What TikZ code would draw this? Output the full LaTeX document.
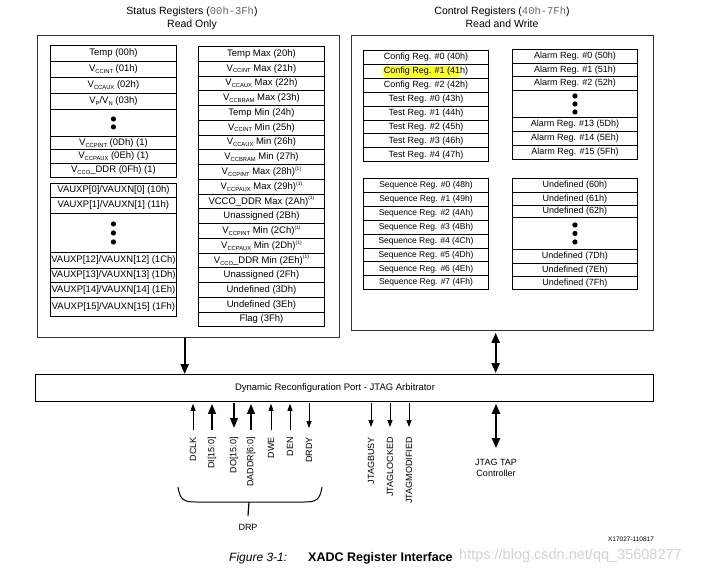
\documentclass[tikz,border=0pt]{standalone}
\usepackage{fontspec}
\setmainfont{Liberation Sans}
\setmonofont{Liberation Mono}
\usetikzlibrary{arrows.meta}
\newcommand\vsub[1]{\raisebox{-0.35ex}{\fontsize{5.8}{6}\selectfont #1}}
\newcommand\fnote{\raisebox{0.9ex}{\fontsize{5}{6}\selectfont (1)}}
\newcommand\regfont{\fontsize{9}{10}\selectfont}
\newcommand\stfont{\fontsize{9.5}{10}\selectfont}
\newcommand\seqfont{\fontsize{8.5}{10}\selectfont}
\newcommand\regtab[6][]{%
  \xdef\cury{#4}%
  \foreach \rh/\rtxt [count=\ri] in {#6}{%
    \node[reg,#1,minimum width=#5pt,minimum height=\rh pt,anchor=north west] (#2\ri) at (#3,\cury) {\rtxt};
    \pgfmathsetmacro\nexty{\cury+\rh}\xdef\cury{\nexty}%
  }}
\definecolor{hl}{RGB}{255,255,40}
\tikzset{
  reg/.style={draw=black, line width=0.9pt, inner sep=0pt, font=\regfont},
  outerbox/.style={draw=black!80, line width=1.3pt, inner sep=0pt},
  thinarr/.style={line width=0.8pt, -{Triangle[length=7pt,width=5pt]}},
  thickarr/.style={line width=2pt, -{Triangle[length=10pt,width=7.5pt]}},
  bigarr/.style={line width=2pt, -{Triangle[length=10pt,width=8pt]}},
  bigboth/.style={line width=2pt, {Triangle[length=10pt,width=8pt]}-{Triangle[length=10pt,width=8pt]}},
  siglbl/.style={rotate=90, anchor=east, inner sep=0pt, font=\fontsize{9}{10}\selectfont},
  title/.style={align=center, font=\fontsize{10.5}{13}\selectfont, inner sep=0pt},
  dot/.style={fill=black}
}
\begin{document}
\begin{tikzpicture}[x=1pt,y=-1pt]
\useasboundingbox (0,0) rectangle (712,574);
% titles
\node[title] (sttitle) at (192,18) {Status Registers (\textcolor{black!60}{\texttt{00h-3Fh}})\\Read Only};
\node[title] (cttitle) at (502,17) {Control Registers (\textcolor{black!60}{\texttt{40h-7Fh}})\\Read and Write};
% outer boxes
\node[outerbox, minimum width=302pt, minimum height=302pt, anchor=north west] (status) at (37,35) {};
\node[outerbox, minimum width=302pt, minimum height=295pt, anchor=north west] (ctrl) at (351,35) {};
% highlight
\fill[hl, rounded corners=3pt] (383,66) rectangle (460,77.5);
% status tables
\regtab[font=\stfont]{sa}{50}{45}{126}{16/Temp (00h), 16/{V\vsub{CCINT} (01h)}, 16/{V\vsub{CCAUX} (02h)}, 16/{V\vsub{P}/V\vsub{N} (03h)}, 27/{}, 13/{V\vsub{CCPINT} (0Dh) (1)}, 14/{V\vsub{CCPAUX} (0Eh) (1)}, 14/{V\vsub{CCO}\_DDR (0Fh) (1)}}
\foreach \dy in {-4,4} \fill[dot] ([yshift=\dy pt]sa5.center) circle (2.6pt);
\regtab[font=\stfont]{sb}{50}{183}{126}{14/{VAUXP[0]/VAUXN[0] (10h)}, 16/{VAUXP[1]/VAUXN[1] (11h)}, 39/{}, 16/{VAUXP[12]/VAUXN[12] (1Ch)}, 14/{VAUXP[13]/VAUXN[13] (1Dh)}, 15/{VAUXP[14]/VAUXN[14] (1Eh)}, 19/{VAUXP[15]/VAUXN[15] (1Fh)}}
\foreach \dy in {-9,0,9} \fill[dot] ([yshift=\dy pt]sb3.center) circle (2.6pt);
\regtab[font=\stfont]{sc}{198}{46}{126}{14.75/Temp Max (20h), 14.75/{V\vsub{CCINT} Max (21h)}, 14.75/{V\vsub{CCAUX} Max (22h)}, 14.75/{V\vsub{CCBRAM} Max (23h)}, 14.75/Temp Min (24h), 14.75/{V\vsub{CCINT} Min (25h)}, 14.75/{V\vsub{CCAUX} Min (26h)}, 14.75/{V\vsub{CCBRAM} Min (27h)}, 14.75/{V\vsub{CCPINT} Max (28h)\fnote}, 14.75/{V\vsub{CCPAUX} Max (29h)\fnote}, 14.75/{VCCO\_DDR Max (2Ah)\fnote}, 14.75/Unassigned (2Bh), 14.75/{V\vsub{CCPINT} Min (2Ch)\fnote}, 14.75/{V\vsub{CCPAUX} Min (2Dh)\fnote}, 14.75/{V\vsub{CCO}\_DDR Min (2Eh)\fnote}, 14.75/Unassigned (2Fh), 14.75/Undefined (3Dh), 14.75/Undefined (3Eh), 14.75/Flag (3Fh)}
% control tables
\regtab{ca}{363}{50}{125}{13.9/Config Reg. \#0 (40h), 13.9/Config Reg. \#1 (41h), 13.9/Config Reg. \#2 (42h), 13.9/Test Reg. \#0 (43h), 13.9/Test Reg. \#1 (44h), 13.9/Test Reg. \#2 (45h), 13.9/Test Reg. \#3 (46h), 13.9/Test Reg. \#4 (47h)}
\regtab{cb}{512}{49}{125}{14/Alarm Reg. \#0 (50h), 13/Alarm Reg. \#1 (51h), 14/Alarm Reg. \#2 (52h), 27/{}, 14/Alarm Reg. \#13 (5Dh), 14/Alarm Reg. \#14 (5Eh), 14/Alarm Reg. \#15 (5Fh)}
\foreach \dy in {-8,0,8} \fill[dot] ([yshift=\dy pt]cb4.center) circle (2.6pt);
\regtab[font=\seqfont]{cc}{363}{178}{125}{13.9/Sequence Reg. \#0 (48h), 13.9/Sequence Reg. \#1 (49h), 13.9/Sequence Reg. \#2 (4Ah), 13.9/Sequence Reg. \#3 (4Bh), 13.9/Sequence Reg. \#4 (4Ch), 13.9/Sequence Reg. \#5 (4Dh), 13.9/Sequence Reg. \#6 (4Eh), 13.9/Sequence Reg. \#7 (4Fh)}
\regtab{cd}{512}{178}{125}{14/Undefined (60h), 13/Undefined (61h), 12/Undefined (62h), 32/{}, 14/Undefined (7Dh), 13/Undefined (7Eh), 13/Undefined (7Fh)}
\foreach \dy in {-8.5,0,8.5} \fill[dot] ([yshift=\dy pt]cd4.center) circle (2.6pt);
% DRP box
\node[outerbox, draw=black, minimum width=618pt, minimum height=27pt, anchor=north west] (drp) at (35,374) {};
\node[inner sep=0pt, font=\fontsize{9.5}{11}\selectfont] (drplbl) at (335,388) {Dynamic Reconfiguration Port - JTAG Arbitrator};
% main arrows
\draw[bigarr] ([xshift=-4pt]status.south) -- ([xshift=-4pt]status.south |- drp.north);
\draw[bigboth] ([xshift=-7pt]ctrl.south) ++(0,1.5) -- ([xshift=-7pt,yshift=1pt]ctrl.south |- drp.north);
% JTAG TAP
\node[align=center, inner sep=0pt, font=\fontsize{9}{11}\selectfont] (jtag) at (496,468) {JTAG TAP\\Controller};
\draw[bigboth] ([yshift=-1.5pt]drp.south -| jtag.north) -- ([yshift=11pt]jtag.north);
% signal labels
\node[siglbl] (dclk) at (193,437) {DCLK};
\node[siglbl] (di) at (212,437) {DI[15:0]};
\node[siglbl] (do) at (234,437) {DO[15:0]};
\node[siglbl] (daddr) at (251,437) {DADDR[6:0]};
\node[siglbl] (dwe) at (271,437) {DWE};
\node[siglbl] (den) at (290,437) {DEN};
\node[siglbl] (drdy) at (309,437) {DRDY};
\node[siglbl] (jbusy) at (371,437) {JTAGBUSY};
\node[siglbl] (jlock) at (390,437) {JTAGLOCKED};
\node[siglbl] (jmod) at (409,437) {JTAGMODIFIED};
% signal arrows
\draw[thinarr, shorten >=1.5pt] ([yshift=7pt]dclk.east) -- (drp.south -| dclk.east);
\draw[thickarr, shorten >=1.5pt] ([yshift=7pt]di.east) -- (drp.south -| di.east);
\draw[thickarr] ([yshift=-1pt]drp.south -| do.east) -- ([yshift=9pt]do.east);
\draw[thickarr, shorten >=1.5pt] ([yshift=7pt]daddr.east) -- (drp.south -| daddr.east);
\draw[thinarr, shorten >=1.5pt] ([yshift=7pt]dwe.east) -- (drp.south -| dwe.east);
\draw[thinarr, shorten >=1.5pt] ([yshift=7pt]den.east) -- (drp.south -| den.east);
\draw[thinarr] ([yshift=-1pt]drp.south -| drdy.east) -- ([yshift=9pt]drdy.east);
\draw[thinarr] ([yshift=-1pt]drp.south -| jbusy.east) -- ([yshift=10pt]jbusy.east);
\draw[thinarr] ([yshift=-1pt]drp.south -| jlock.east) -- ([yshift=10pt]jlock.east);
\draw[thinarr] ([yshift=-1pt]drp.south -| jmod.east) -- ([yshift=10pt]jmod.east);
% brace
\coordinate (brl) at (178,487);
\coordinate (brr) at (322,487);
\coordinate (brm) at (249,502);
\node[inner sep=0pt, font=\fontsize{9}{11}\selectfont] (drplab) at (248,527) {DRP};
\draw[line width=1pt] (brl) .. controls (180,500) and (184,502) .. (196,502) -- (304,502) .. controls (316,502) and (320,500) .. (brr);
\draw[line width=1.2pt] (brm) -- ([yshift=8pt]drplab.north);
% captions
\node[inner sep=0pt, font=\fontsize{6.5}{8}\selectfont] (xid) at (631,539) {X17027-110817};
\node[anchor=west, inner sep=0pt, font=\fontsize{12}{14}\selectfont\itshape] (figno) at (229,558) {Figure 3-1:};
\node[anchor=west, inner sep=0pt, font=\fontsize{12.5}{14}\selectfont\bfseries] (figttl) at (308,558) {XADC Register Interface};
\node[anchor=west, inner sep=0pt, text=black!18, font=\fontsize{14.5}{16}\selectfont] (wm) at (459,556) {https://blog.csdn.net/qq\_35608277};
\end{tikzpicture}
\end{document}
